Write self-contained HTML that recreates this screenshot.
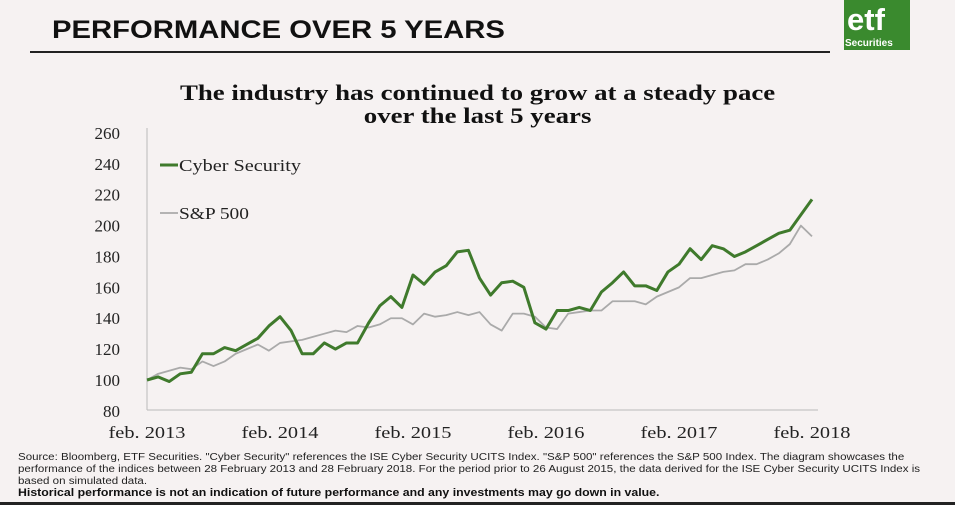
<!DOCTYPE html>
<html><head><meta charset="utf-8"><style>
body{margin:0;width:955px;height:505px;background:#f6f2f2;position:relative;overflow:hidden;font-family:"Liberation Sans",sans-serif}
.t{position:absolute;white-space:nowrap;transform-origin:0 0}
</style></head><body>
<div class="t" style="left:52px;top:16px;font-size:25px;font-weight:bold;color:#111;transform:scaleX(1.17)">PERFORMANCE OVER 5 YEARS</div>
<div style="position:absolute;left:30px;top:51px;width:800px;height:2px;background:#222"></div>
<div style="position:absolute;left:844px;top:0;width:66px;height:50px;background:#3a8a2e;color:#fff">
<div style="position:absolute;left:3px;top:2px;font-size:31px;font-weight:bold">etf</div>
<div style="position:absolute;left:1px;top:38px;font-size:10px;font-weight:bold">Securities</div></div>
<div class="t" style="left:0;width:955px;text-align:center;top:81px;font-family:'Liberation Serif',serif;font-weight:bold;font-size:22px;line-height:23px;color:#111;transform-origin:477px 0;transform:scaleX(1.22)">The industry has continued to grow at a steady pace<br>over the last 5 years</div>
<svg id="c" width="955" height="505" style="position:absolute;left:0;top:0"></svg>
<div class="t" style="left:18px;top:452px;font-size:10px;line-height:11.8px;color:#222;transform:scaleX(1.155)">Source: Bloomberg, ETF Securities. "Cyber Security" references the ISE Cyber Security UCITS Index. "S&amp;P 500" references the S&amp;P 500 Index. The diagram showcases the<br>performance of the indices between 28 February 2013 and 28 February 2018. For the period prior to 26 August 2015, the data derived for the ISE Cyber Security UCITS Index is<br>based on simulated data.</div>
<div class="t" style="left:18px;top:487px;font-size:11px;font-weight:bold;color:#111;transform:scaleX(1.12)">Historical performance is not an indication of future performance and any investments may go down in value.</div>
<div style="position:absolute;left:0;top:502px;width:955px;height:3px;background:#222"></div>
<script>
const yTicks=[80,100,120,140,160,180,200,220,240,260];
const xLabels=["feb. 2013","feb. 2014","feb. 2015","feb. 2016","feb. 2017","feb. 2018"];
const cyber=[100,102,99,104,105,117,117,121,119,123,127,135,141,132,117,117,124,120,124,124,137,148,154,147,168,162,170,174,183,184,166,155,163,164,160,137,133,145,145,147,145,157,163,170,161,161,158,170,175,185,178,187,185,180,183,187,191,195,197,207,217];
const sp500=[100,104,106,108,107,112,109,112,117,120,123,119,124,125,126,128,130,132,131,135,134,136,140,140,136,143,141,142,144,142,144,136,132,143,143,141,134,133,143,144,145,145,151,151,151,149,154,157,160,166,166,168,170,171,175,175,178,182,188,200,193];
const svg=document.getElementById('c'),NS='http://www.w3.org/2000/svg';
const x0=147,x1=812,y=v=>380-(v-100)*1.544,x=i=>x0+(x1-x0)*i/60;
function mk(t,a){const e=document.createElementNS(NS,t);for(const k in a)e.setAttribute(k,a[k]);svg.appendChild(e);return e;}
let ax=mk('line',{x1:147,y1:128,x2:147,y2:410,stroke:'#bbb','stroke-width':1});

let bx=mk('line',{x1:147,y1:410,x2:818,y2:410,stroke:'#bbb','stroke-width':1});

yTicks.forEach(v=>{const t=mk('text',{x:120,y:y(v)+6,'text-anchor':'end','font-family':'Liberation Serif,serif','font-size':17,fill:'#222'});t.textContent=v;
});
xLabels.forEach((s,i)=>{const t=mk('text',{x:x(i*12)+0,y:438,'text-anchor':'middle','font-family':'Liberation Serif,serif','font-size':17,fill:'#222',textLength:77,lengthAdjust:'spacingAndGlyphs'});t.textContent=s;
});
function line(d,c,w,n){const p=mk('polyline',{points:d.map((v,i)=>x(i)+','+y(v)).join(' '),fill:'none',stroke:c,'stroke-width':w,'stroke-linejoin':'round'});
}
line(sp500,'#aaa',1.8,'sp500-line');
line(cyber,'#3f7a2c',3,'cyber-security-line');
function leg(yy,c,w,s,n,len){const g=mk('g',{});
const l=document.createElementNS(NS,'line');[['x1',160],['x2',178],['y1',yy],['y2',yy],['stroke',c],['stroke-width',w]].forEach(a=>l.setAttribute(a[0],a[1]));g.appendChild(l);
const t=document.createElementNS(NS,'text');[['x',179],['y',yy+6],['font-family','Liberation Serif,serif'],['font-size',17],['fill','#222'],['textLength',len],['lengthAdjust','spacingAndGlyphs']].forEach(a=>t.setAttribute(a[0],a[1]));t.textContent=s;g.appendChild(t);}
leg(165,'#3f7a2c',3,'Cyber Security','legend-cyber-security',122);
leg(213,'#aaa',1.8,'S&P 500','legend-sp500',70);
</script>
</body></html>
